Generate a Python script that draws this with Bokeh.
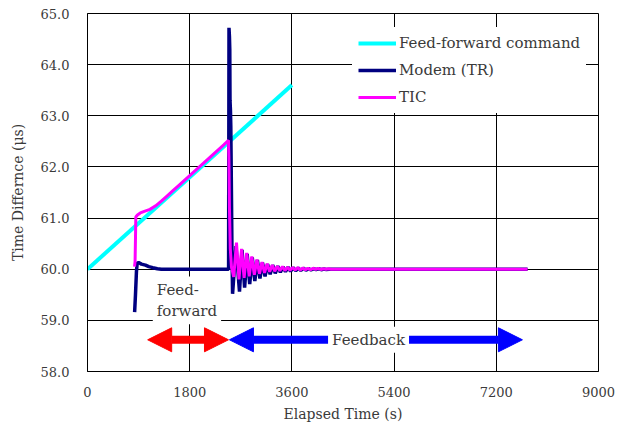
from bokeh.plotting import figure
from bokeh.models import (Range1d, FixedTicker, PrintfTickFormatter, Legend, LegendItem,
                          Label, Arrow, NormalHead)
from bokeh.embed import file_html
from bokeh.resources import INLINE

# ---------------- data ----------------
x_ticks = [0, 1800, 3600, 5400, 7200, 9000]
y_ticks = [58, 59, 60, 61, 62, 63, 64, 65]

ff_t = [0, 3600]
ff_v = [60.0, 63.6]

modem_t = [830, 845, 862, 875, 900, 950, 1020, 1080, 1150, 1230, 1300, 2485,
           2492, 2500, 2506, 2510, 2518, 2524, 2535, 2545, 2555, 2615,
           2677, 2722, 2767, 2812, 2857, 2902, 2947, 2992, 3037, 3082, 3127, 3172,
           3217, 3262, 3307, 3352, 3397, 3442, 3487, 3532, 3577, 3622, 3667, 3712,
           3757, 3802, 3847, 3892, 3937, 3982, 4027, 4072, 4117, 4162, 4207, 4252,
           4300, 7750]
modem_v = [59.16, 59.5, 59.95, 60.12, 60.13, 60.1, 60.08, 60.05, 60.03, 60.01, 60.0, 60.0,
           64.72, 64.55, 64.3, 63.3, 63.1, 62.8, 61.5, 60.3, 59.52, 60.45,
           59.56, 60.38, 59.64, 60.30, 59.71, 60.23, 59.77, 60.18, 59.82, 60.13, 59.86, 60.10,
           59.90, 60.08, 59.92, 60.06, 59.94, 60.05, 59.95, 60.04, 59.96, 60.03, 59.97, 60.025,
           59.975, 60.02, 59.98, 60.015, 59.985, 60.01, 59.99, 60.01, 59.99, 60.005, 59.995, 60.0,
           60.0, 60.0]

tic_t = [828, 838, 845, 851, 880, 930, 1000, 1100, 1200, 1300, 1400, 1500, 1600, 1800,
         2000, 2200, 2400, 2483, 2490, 2500, 2515, 2535, 2575,
         2624, 2668, 2714, 2758, 2804, 2848, 2894, 2938, 2984, 3028, 3074, 3118,
         3164, 3208, 3254, 3298, 3344, 3388, 3434, 3478, 3524, 3568, 3614, 3658,
         3704, 3748, 3794, 3838, 3884, 3928, 3974, 4018, 4064, 4108, 4154, 4198,
         4244, 4290, 7750]
tic_v = [60.05, 60.15, 60.6, 61.02, 61.06, 61.1, 61.13, 61.17, 61.24, 61.33, 61.43, 61.53, 61.63, 61.83,
         62.03, 62.23, 62.43, 62.52, 62.2, 61.2, 60.4, 60.05, 59.85,
         60.52, 59.80, 60.40, 59.83, 60.32, 59.86, 60.25, 59.89, 60.19, 59.91, 60.14, 59.93,
         60.11, 59.95, 60.08, 59.96, 60.06, 59.97, 60.05, 59.975, 60.04, 59.98, 60.035, 59.985,
         60.03, 59.985, 60.025, 59.99, 60.02, 59.99, 60.02, 59.995, 60.015, 59.995, 60.01, 60.0,
         60.01, 60.0, 60.0]

series_names = ["Feed-forward command", "Modem (TR)", "TIC"]

FONT = "DejaVu Serif"
TXT = "#3a3a3a"

p = figure(width=617, height=429, output_backend="svg", toolbar_location=None,
           x_range=Range1d(0, 9000), y_range=Range1d(58, 65),
           min_border_left=87, min_border_right=19, min_border_top=13, min_border_bottom=58)
p.background_fill_color = "white"
p.border_fill_color = "white"
p.outline_line_color = "black"
p.outline_line_width = 1

r_ff = p.line(ff_t, ff_v, line_color="#00ffff", line_width=4)
r_md = p.line(modem_t, modem_v, line_color="#000080", line_width=3.5)
r_tic = p.line(tic_t, tic_v, line_color="#ff00ff", line_width=3)

# axes
p.xaxis.ticker = FixedTicker(ticks=x_ticks)
p.yaxis.ticker = FixedTicker(ticks=y_ticks)
p.yaxis.formatter = PrintfTickFormatter(format="%.1f")
for ax in (p.xaxis[0], p.yaxis[0]):
    ax.axis_line_color = "black"
    ax.major_tick_in = 0
    ax.major_tick_out = 0
    ax.minor_tick_in = 0
    ax.minor_tick_out = 0
    ax.major_label_text_font = FONT
    ax.major_label_text_font_size = "13px"
    ax.major_label_text_color = TXT
    ax.axis_label_text_font = FONT
    ax.axis_label_text_font_size = "14px"
    ax.axis_label_text_font_style = "normal"
    ax.axis_label_text_color = TXT
p.xaxis.axis_label = "Elapsed Time (s)"
p.yaxis.axis_label = "Time Differnce (μs)"
p.xaxis.major_label_standoff = 15
p.xaxis.axis_label_standoff = 6
p.yaxis.major_label_standoff = 18
p.yaxis.axis_label_standoff = 12

p.xgrid.ticker = FixedTicker(ticks=x_ticks)
p.ygrid.ticker = FixedTicker(ticks=y_ticks)
for g in (p.xgrid[0], p.ygrid[0]):
    g.grid_line_color = "black"
    g.grid_line_width = 1

# arrows
red_head = dict(size=24, fill_color="#ff0000", line_color="#ff0000")
blue_head = dict(size=24, fill_color="#0000ff", line_color="#0000ff")
p.add_layout(Arrow(start=NormalHead(**red_head), end=NormalHead(**red_head),
                   x_start=1060, y_start=58.62, x_end=2483, y_end=58.62,
                   line_color="#ff0000", line_width=8))
p.add_layout(Arrow(start=NormalHead(**blue_head), end=NormalHead(**blue_head),
                   x_start=2500, y_start=58.62, x_end=7660, y_end=58.62,
                   line_color="#0000ff", line_width=8))

p.add_layout(Label(x=1150, y=59.39, text="Feed-\nforward", text_align="left",
                   text_baseline="middle", text_font=FONT, text_font_size="15px",
                   text_color=TXT, background_fill_color="white", padding=4))
p.add_layout(Label(x=4950, y=58.62, text="Feedback", text_align="center",
                   text_baseline="middle", text_font=FONT, text_font_size="15px",
                   text_color=TXT, background_fill_color="white", padding=4))

legend = Legend(items=[LegendItem(label=series_names[0], renderers=[r_ff]),
                       LegendItem(label=series_names[1], renderers=[r_md]),
                       LegendItem(label=series_names[2], renderers=[r_tic])],
                location=(265, 258))
legend.padding = 6
legend.spacing = 7
legend.margin = 0
legend.glyph_width = 38
legend.glyph_height = 20
legend.label_height = 20
legend.label_standoff = 3
legend.border_line_alpha = 0
legend.background_fill_color = "white"
legend.background_fill_alpha = 1
legend.label_text_font = FONT
legend.label_text_font_size = "15px"
legend.label_text_color = TXT
p.add_layout(legend)

open("out.html", "w").write(file_html(p, INLINE))
